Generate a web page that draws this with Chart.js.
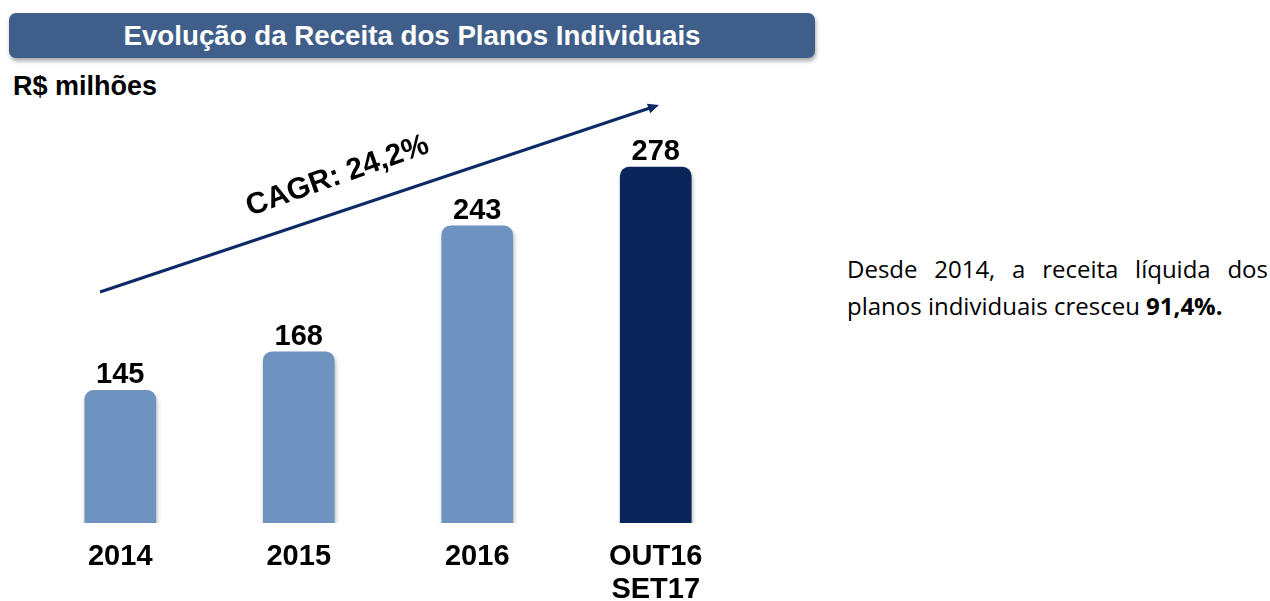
<!DOCTYPE html>
<html>
<head>
<meta charset="utf-8">
<script src="https://cdn.jsdelivr.net/npm/chart.js@4"></script>
<style>
  html, body { margin: 0; padding: 0; background: #fff; overflow: hidden; }
  body { width: 1270px; height: 601px; position: relative; font-family: "Liberation Sans", Arial, sans-serif; }
  .banner {
    position: absolute; left: 9px; top: 13px; width: 806px; height: 45px;
    background: #3f5f8a; border-radius: 7px;
    box-shadow: 1px 3px 4px rgba(0,0,0,0.35);
    color: #fff; font-weight: bold; font-size: 27.7px; line-height: 45px; text-align: center;
  }
  .unit { position: absolute; left: 13px; top: 73px; font-weight: bold; font-size: 27px; line-height: 27px; color: #000; }
  .note {
    position: absolute; left: 847px; top: 250px; width: 421px;
    font-family: "Open Sans", sans-serif; font-size: 24px; line-height: 37px; color: #000;
  }
  .note .l1 { text-align: justify; text-align-last: justify; }
  #chart { position: absolute; left: 0; top: 0; }
</style>
</head>
<body>
<div class="banner">Evolução da Receita dos Planos Individuais</div>
<div class="unit">R$ milhões</div>
<canvas id="chart" width="800" height="620"></canvas>
<div class="note">
  <div class="l1">Desde 2014, a receita líquida dos</div>
  <div>planos individuais cresceu <b>91,4%.</b></div>
</div>
<script>
const categories = ["2014", "2015", "2016", ["OUT16", "SET17"]];
const revenue = [145, 168, 243, 278];
const barColors = ["#6e93c0", "#6e93c0", "#6e93c0", "#0a2559"];
const cagrLabel = "CAGR: 24,2%";

const labelsAndArrow = {
  id: "labelsAndArrow",
  beforeDatasetsDraw(chart) {
    const ctx = chart.ctx;
    ctx.save();
    ctx.shadowColor = "rgba(0,0,0,0.3)";
    ctx.shadowBlur = 4;
    ctx.shadowOffsetX = 1;
    ctx.shadowOffsetY = 3;
  },
  afterDatasetsDraw(chart) {
    const ctx = chart.ctx;
    ctx.restore();

    // values above the bars
    const meta = chart.getDatasetMeta(0);
    ctx.save();
    ctx.fillStyle = "#000";
    ctx.font = "bold 29px 'Liberation Sans', Arial, sans-serif";
    ctx.textAlign = "center";
    ctx.textBaseline = "alphabetic";
    meta.data.forEach((bar, i) => {
      ctx.fillText(String(revenue[i]), bar.x, bar.y - 7);
    });
    ctx.restore();

    // CAGR arrow
    const x0 = 100, y0 = 292, x1 = 659, y1 = 105;
    const ang = Math.atan2(y1 - y0, x1 - x0);
    ctx.save();
    ctx.strokeStyle = "#0d2a66";
    ctx.fillStyle = "#0d2a66";
    ctx.lineWidth = 3;
    ctx.beginPath();
    ctx.moveTo(x0, y0);
    ctx.lineTo(x1 - 8 * Math.cos(ang), y1 - 8 * Math.sin(ang));
    ctx.stroke();
    ctx.translate(x1, y1);
    ctx.rotate(ang);
    ctx.beginPath();
    ctx.moveTo(0, 0);
    ctx.lineTo(-11, -5);
    ctx.lineTo(-11, 5);
    ctx.closePath();
    ctx.fill();
    ctx.restore();

    ctx.save();
    ctx.translate(250, 216);
    ctx.rotate(-19.5 * Math.PI / 180);
    ctx.fillStyle = "#000";
    ctx.font = "bold 30px 'Liberation Sans', Arial, sans-serif";
    ctx.textAlign = "left";
    ctx.textBaseline = "alphabetic";
    ctx.fillText(cagrLabel, 0, 0);
    ctx.restore();
  }
};

new Chart(document.getElementById("chart").getContext("2d"), {
  type: "bar",
  data: {
    labels: categories,
    datasets: [{
      data: revenue,
      backgroundColor: barColors,
      borderRadius: 9,
      borderSkipped: false,
      barThickness: 71
    }]
  },
  options: {
    responsive: false,
    animation: false,
    devicePixelRatio: 1,
    layout: { padding: { left: 31, right: 55, top: 100, bottom: 0 } },
    plugins: { legend: { display: false }, tooltip: { enabled: false } },
    scales: {
      x: {
        grid: { display: false, drawTicks: false },
        border: { display: false },
        ticks: {
          color: "#000",
          padding: 17,
          font: { family: "'Liberation Sans', Arial, sans-serif", weight: "bold", size: 29, lineHeight: 1.15 }
        },
        afterFit(scale) { scale.height = 97; }
      },
      y: { display: false, min: 66, max: 318 }
    }
  },
  plugins: [labelsAndArrow]
});
</script>
</body>
</html>
